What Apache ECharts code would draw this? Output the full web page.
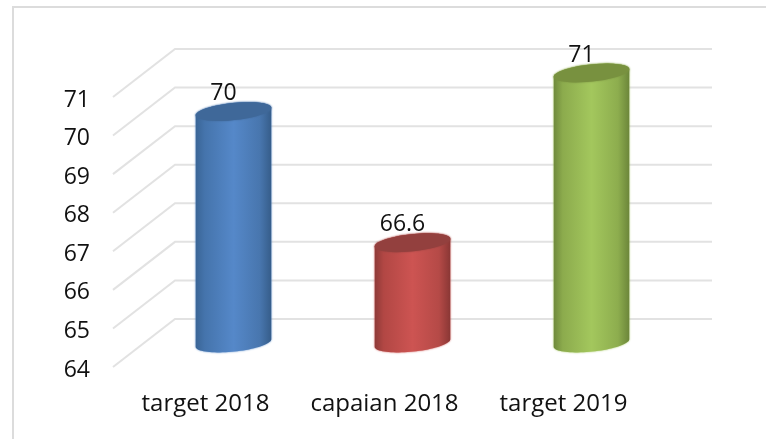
<!DOCTYPE html>
<html>
<head>
<meta charset="utf-8">
<style>
  html, body { margin: 0; padding: 0; background: #fff; }
  #chart { width: 766px; height: 439px; }
</style>
<script src="https://cdn.jsdelivr.net/npm/echarts@6/dist/echarts.min.js"></script>
</head>
<body>
<div id="chart"></div>
<script>
var categories = ["target 2018", "capaian 2018", "target 2019"];
var values = [70, 66.6, 71];
var yTicks = [64, 65, 66, 67, 68, 69, 70, 71];

// edge, shoulder, middle, shoulder, edge
var bodyColors = [
  ["#3a6596", "#4574ac", "#5588c9", "#4876ae", "#365d8a"],
  ["#8e3a38", "#b24744", "#cd5452", "#b54a47", "#8a3735"],
  ["#6f8a3c", "#8cab4d", "#a3c75d", "#8dad4e", "#6c863a"]
];
var capColors = ["#3f6899", "#93403e", "#78913f"];

var FONT = "'Open Sans', sans-serif";
// the wall sits behind the front plane of the grid, bars stand half way
var wallShift = [62, -48];
var barShift = [31, -24];
var rx = 38, ry = 8.6, tilt = -6 * Math.PI / 180;

function ellipsePts(cx, cy, from, to) {
  var pts = [];
  for (var i = 0; i <= 40; i++) {
    var t = from + (to - from) * i / 40;
    pts.push([
      cx + rx * Math.cos(t) * Math.cos(tilt) - ry * Math.sin(t) * Math.sin(tilt),
      cy + rx * Math.cos(t) * Math.sin(tilt) + ry * Math.sin(t) * Math.cos(tilt)
    ]);
  }
  return pts;
}

// grid line on the wall, its slanted floor part and the tick label in front
function renderWall(params, api) {
  var p = api.coord([0, api.value(0)]);
  var x0 = params.coordSys.x;
  var x1 = x0 + params.coordSys.width;
  return {
    type: "group",
    children: [
      {
        type: "polyline",
        shape: { points: [[x0, p[1]], [x0 + wallShift[0], p[1] + wallShift[1]], [x1 + wallShift[0], p[1] + wallShift[1]]] },
        style: { fill: null, stroke: "#e2e2e2", lineWidth: 2 }
      },
      {
        type: "text",
        style: {
          x: x0 - 23,
          y: p[1] + 3,
          text: String(api.value(0)),
          font: "23px " + FONT,
          fill: "#111",
          align: "right",
          verticalAlign: "middle"
        }
      }
    ]
  };
}

function renderBar(params, api) {
  var i = api.value(0);
  var top = api.coord([i, api.value(1)]);
  var base = api.coord([i, yTicks[0]]);
  var cx = top[0] + barShift[0];
  var topY = top[1] + barShift[1];
  var baseY = base[1] + barShift[1];
  var c = bodyColors[i];
  var body = ellipsePts(cx, topY, Math.PI, 2 * Math.PI).concat(ellipsePts(cx, baseY, 0, Math.PI));
  return {
    type: "group",
    children: [
      {
        type: "polygon",
        shape: { points: body },
        style: {
          shadowBlur: 2,
          shadowColor: c[2],
          fill: new echarts.graphic.LinearGradient(0, 0, 1, 0, [
            { offset: 0, color: c[0] },
            { offset: 0.12, color: c[1] },
            { offset: 0.5, color: c[2] },
            { offset: 0.85, color: c[3] },
            { offset: 1, color: c[4] }
          ])
        }
      },
      {
        type: "polygon",
        shape: { points: ellipsePts(cx, topY, 0, 2 * Math.PI) },
        style: { fill: capColors[i], shadowBlur: 2, shadowColor: capColors[i] }
      },
      {
        type: "text",
        style: {
          x: cx - 10,
          y: topY - 18,
          text: String(api.value(1)),
          font: "23px " + FONT,
          fill: "#111",
          align: "center",
          verticalAlign: "middle"
        }
      }
    ]
  };
}

var chart = echarts.init(document.getElementById("chart"));
chart.setOption({
  animation: false,
  backgroundColor: "#fff",
  graphic: [
    {
      type: "polyline",
      silent: true,
      shape: { points: [[13, 445], [13, 7], [775, 7]] },
      style: { fill: null, stroke: "#dcdcdc", lineWidth: 2 }
    }
  ],
  grid: { left: 113, top: 97, width: 537, height: 270 },
  xAxis: {
    type: "category",
    data: categories,
    axisLine: { show: false },
    axisTick: { show: false },
    axisLabel: { interval: 0, color: "#111", fontFamily: FONT, fontSize: 24, margin: 25, padding: [0, 0, 0, 6] }
  },
  yAxis: {
    type: "value",
    min: yTicks[0],
    max: yTicks[yTicks.length - 1],
    interval: 1,
    axisLine: { show: false },
    axisTick: { show: false },
    splitLine: { show: false },
    axisLabel: { show: false }
  },
  series: [
    {
      type: "custom",
      silent: true,
      clip: false,
      z: 1,
      renderItem: renderWall,
      encode: { y: 0 },
      data: yTicks.map(function (v) { return [v]; })
    },
    {
      type: "custom",
      silent: true,
      clip: false,
      z: 2,
      renderItem: renderBar,
      encode: { x: 0, y: 1 },
      data: values.map(function (v, i) { return [i, v]; })
    }
  ]
});
</script>
</body>
</html>
